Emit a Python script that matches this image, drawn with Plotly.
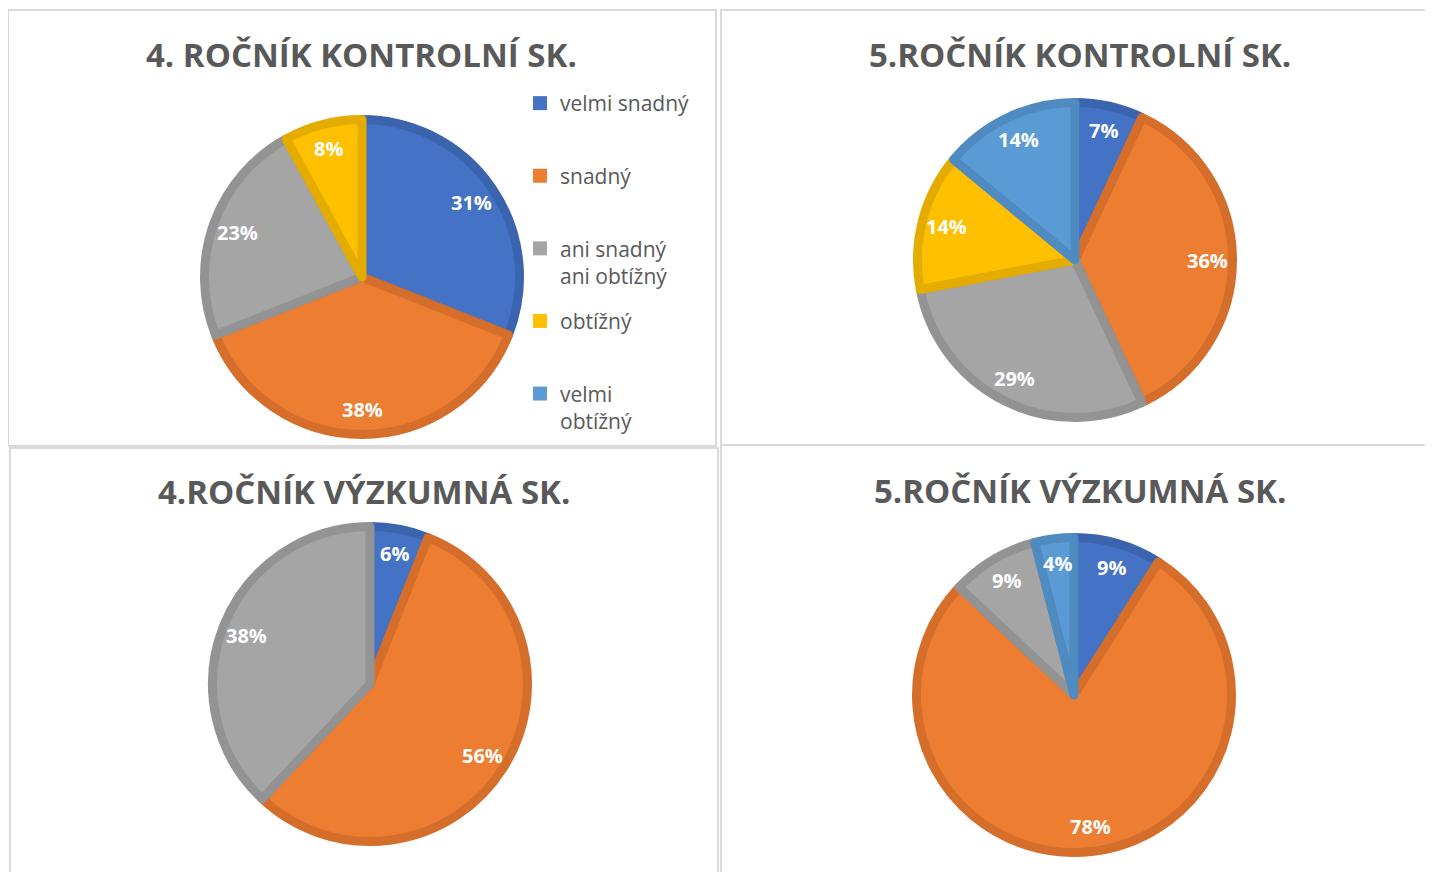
import math
import plotly.graph_objects as go

# the page body has an 8px margin: work in page pixels, convert with OFF
PAGE_W, PAGE_H = 1433, 872
OFF = 8
W, H = PAGE_W - OFF, PAGE_H - OFF

categories = ["velmi snadný", "snadný", "ani snadný<br>ani obtížný", "obtížný", "velmi<br>obtížný"]
legend_labels = ["velmi snadný<br> ", "snadný<br> ", "ani snadný<br>ani obtížný", "obtížný<br> ", "velmi<br>obtížný"]

titles = ["4. ROČNÍK KONTROLNÍ SK.", "5.ROČNÍK KONTROLNÍ SK.",
          "4.ROČNÍK VÝZKUMNÁ SK.", "5.ROČNÍK VÝZKUMNÁ SK."]

# percentages per chart, in category order
vals_4_kontrolni = [31, 38, 23, 8, 0]
vals_5_kontrolni = [7, 36, 29, 14, 14]
vals_4_vyzkumna = [6, 56, 38, 0, 0]
vals_5_vyzkumna = [9, 78, 9, 0, 4]

fill_colors = ["#4472C4", "#ED7D31", "#A5A5A5", "#FFC000", "#5B9BD5"]
edge_colors = ["#3B64AE", "#D66E2B", "#939393", "#E5AC00", "#4F8AC0"]

# layout geometry (page pixels)
pie_geo = [(362, 277), (1075, 260), (370, 684), (1074, 695)]
LINE_W = 9
R_OUT = 162
R = R_OUT - LINE_W / 2
LABEL_FRAC = 0.82
title_pos = [(361, 55), (1080, 55), (364, 491), (1080, 490)]
panels = [(8, 10, 716, 446), (721, 10, 1440, 445), (10, 448, 718, 880), (721, 445, 1440, 880)]

series = [vals_4_kontrolni, vals_5_kontrolni, vals_4_vyzkumna, vals_5_vyzkumna]


def px(x):
    return (x - OFF) / W


def py(y):
    return 1 - (y - OFF) / H


fig = go.Figure()
annotations = []

for vals, (cx, cy) in zip(series, pie_geo):
    fig.add_trace(go.Pie(
        labels=categories,
        values=vals,
        textinfo="none",
        sort=False,
        direction="clockwise",
        rotation=0,
        marker=dict(colors=fill_colors,
                    line=dict(color=edge_colors, width=[LINE_W if v else 0 for v in vals])),
        domain=dict(x=[px(cx - R), px(cx + R)], y=[py(cy + R), py(cy - R)]),
        showlegend=False,
        hoverinfo="label+percent",
    ))
    # data labels placed along each slice's mid-angle (Excel "best fit" look)
    total = sum(vals)
    cum = 0
    for v in vals:
        if v > 0:
            mid = (cum + v / 2) / total * 2 * math.pi
            lx = cx + LABEL_FRAC * R_OUT * math.sin(mid)
            ly = cy - LABEL_FRAC * R_OUT * math.cos(mid)
            annotations.append(dict(text=f"{v}%", x=px(lx), y=py(ly), xref="paper", yref="paper",
                                    showarrow=False, xanchor="center", yanchor="middle",
                                    font=dict(family="Open Sans", size=20, color="white", weight="bold")))
        cum += v

# legend entries (drawn via plotly legend)
for i, (lab, col) in enumerate(zip(legend_labels, fill_colors)):
    fig.add_trace(go.Scatter(
        x=[None], y=[None], mode="markers", name=lab,
        marker=dict(symbol="square", size=14, color=col),
        legendgroup=f"g{i}", showlegend=True,
    ))

shapes = []
for (x0, y0, x1, y1) in panels:
    shapes.append(dict(type="rect", xref="paper", yref="paper",
                       x0=px(x0), x1=px(x1), y0=py(y1), y1=py(y0),
                       line=dict(color="#D9D9D9", width=2), fillcolor="rgba(0,0,0,0)", layer="below"))

for t, (tx, ty) in zip(titles, title_pos):
    annotations.append(dict(text=t, x=px(tx), y=py(ty), xref="paper", yref="paper",
                            showarrow=False, xanchor="center", yanchor="middle",
                            font=dict(family="Open Sans", size=33, color="#595959", weight="bold")))

fig.update_layout(
    width=W, height=H,
    margin=dict(l=0, r=0, t=0, b=0),
    paper_bgcolor="white", plot_bgcolor="white",
    xaxis=dict(visible=False), yaxis=dict(visible=False),
    shapes=shapes, annotations=annotations,
    legend=dict(x=px(520), y=py(83), xanchor="left", yanchor="top",
                font=dict(family="Open Sans", size=21, color="#595959"),
                tracegroupgap=15, valign="top", itemwidth=30,
                bgcolor="rgba(0,0,0,0)"),
)

fig.write_html("out.html")
